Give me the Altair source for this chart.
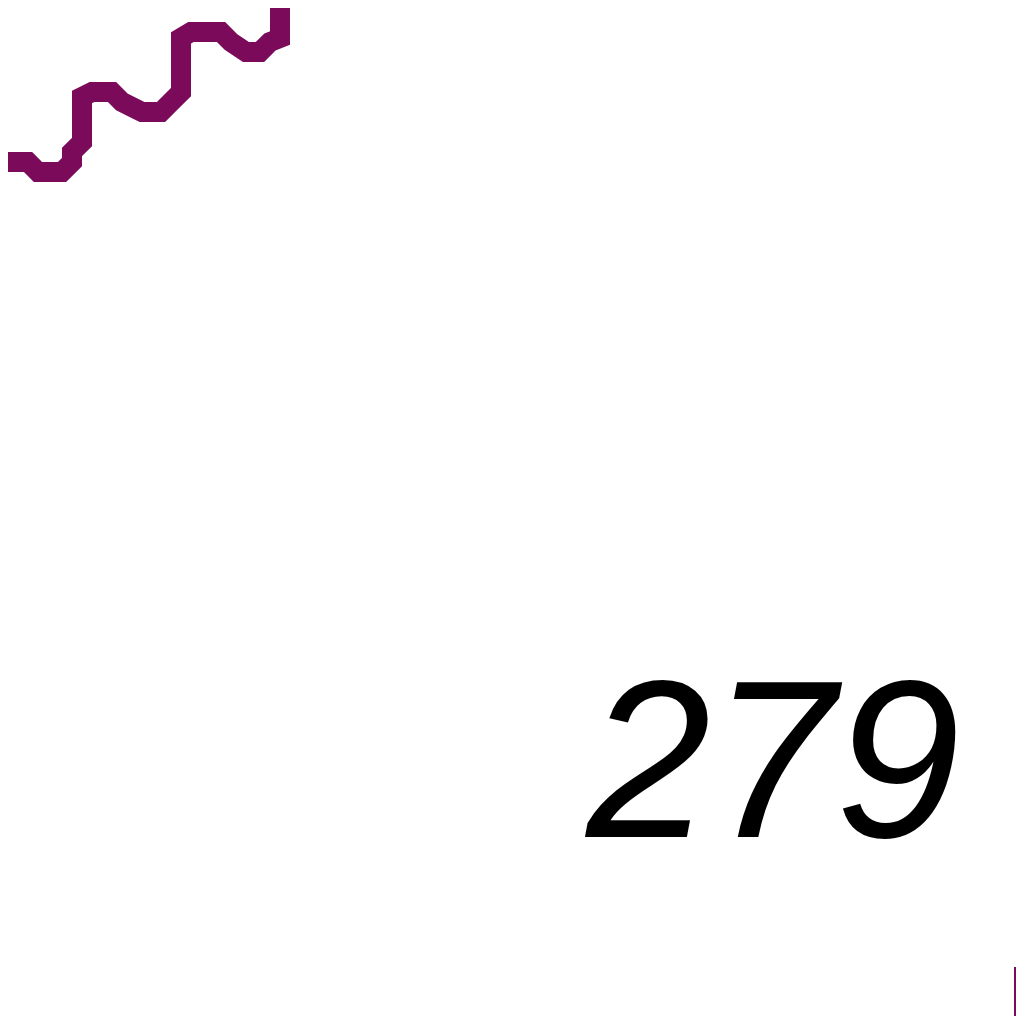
import altair as alt
import pandas as pd

# values (pixel units of the reference)
line_x = [0, 28, 38, 62, 72, 72, 82, 82, 92, 112, 122, 132, 142, 161, 171, 181, 181, 191, 221, 231, 246, 260, 270, 280, 280]
line_y = [162, 162, 172, 172, 162, 152, 142, 97, 92, 92, 102, 107, 112, 112, 102, 92, 38, 32, 32, 42, 52, 52, 42, 38, -20]

label_text = ['279']
label_x = [773]
label_y = [837]

tail_x = [1019]
tail_y = [967]
tail_y2 = [1040]

purple = '#7b0a5b'

line_df = pd.DataFrame({'x': line_x, 'y': line_y, 'order': range(len(line_x))})
label_df = pd.DataFrame({'x': label_x, 'y': label_y, 'text': label_text})
tail_df = pd.DataFrame({'x': tail_x, 'y': tail_y, 'y2': tail_y2})

# page has an 8px margin: the view covers reference pixels 8..1016
xs = alt.Scale(domain=[8, 1016])
ys = alt.Scale(domain=[8, 1016], reverse=True)

line = alt.Chart(line_df).mark_line(
    color=purple, strokeWidth=20, strokeCap='square', strokeJoin='miter', clip=True
).encode(
    x=alt.X('x:Q', scale=xs, axis=None),
    y=alt.Y('y:Q', scale=ys, axis=None),
    order='order:Q'
)

tail = alt.Chart(tail_df).mark_rule(color=purple, strokeWidth=10, clip=True).encode(
    x=alt.X('x:Q', scale=xs, axis=None),
    y=alt.Y('y:Q', scale=ys, axis=None),
    y2='y2:Q'
)

label = alt.Chart(label_df).mark_text(
    font='Liberation Sans', fontSize=224, fontStyle='italic', color='black',
    align='center', baseline='alphabetic'
).encode(
    x=alt.X('x:Q', scale=xs, axis=None),
    y=alt.Y('y:Q', scale=ys, axis=None),
    text='text:N'
)

chart = alt.layer(line, tail, label).properties(
    width=1008, height=1008, padding=0, autosize='none', background='white'
).configure_view(stroke=None)

chart.save("out.html", embed_options={"renderer": "svg", "actions": False})
